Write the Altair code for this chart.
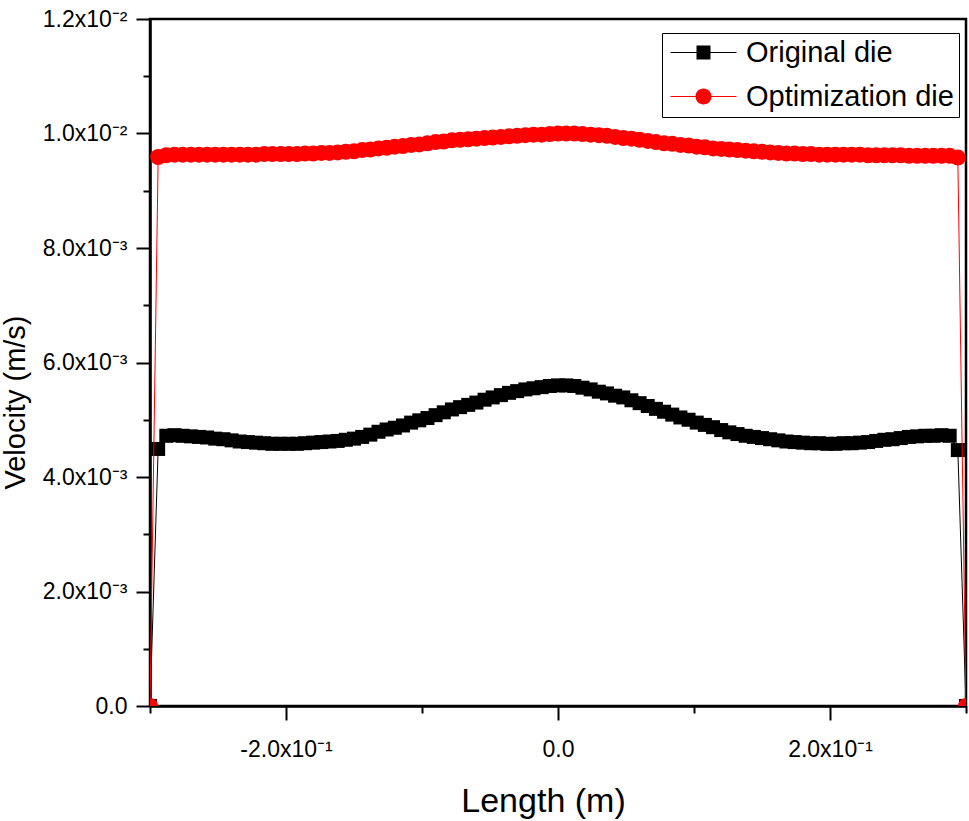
import altair as alt
import numpy as np
import pandas as pd

# ---------------- data ----------------
length_m = np.round(np.linspace(-0.3, 0.3, 101), 3).tolist()

# velocity in units of 1e-3 m/s
original_die_e3 = [
    0.0,
    4.49, 4.72, 4.73, 4.72, 4.71, 4.70, 4.69, 4.67, 4.66, 4.64,
    4.62, 4.61, 4.60, 4.59, 4.58, 4.58, 4.58, 4.58, 4.59, 4.60,
    4.61, 4.62, 4.63, 4.65, 4.67, 4.70, 4.74, 4.79, 4.83, 4.86,
    4.90, 4.95, 4.99, 5.03, 5.08, 5.13, 5.18, 5.22, 5.26, 5.30,
    5.35, 5.39, 5.43, 5.47, 5.50, 5.53, 5.55, 5.57, 5.59, 5.60,
    5.60, 5.59, 5.56, 5.53, 5.49, 5.46, 5.42, 5.39, 5.34, 5.29,
    5.24, 5.19, 5.14, 5.09, 5.04, 5.00, 4.95, 4.91, 4.87, 4.82,
    4.78, 4.75, 4.72, 4.70, 4.68, 4.66, 4.64, 4.62, 4.61, 4.60,
    4.59, 4.59, 4.58, 4.58, 4.59, 4.59, 4.60, 4.61, 4.63, 4.65,
    4.66, 4.68, 4.70, 4.71, 4.72, 4.72, 4.73, 4.72, 4.47, 0.0,
]

optimization_die_e3 = [
    0.0,
    9.59, 9.62, 9.63, 9.63, 9.63, 9.63, 9.63, 9.63, 9.63, 9.63,
    9.63, 9.63, 9.63, 9.64, 9.64, 9.64, 9.64, 9.64, 9.65, 9.65,
    9.66, 9.66, 9.67, 9.68, 9.69, 9.71, 9.72, 9.74, 9.75, 9.77,
    9.78, 9.80, 9.81, 9.83, 9.85, 9.86, 9.88, 9.89, 9.90, 9.91,
    9.92, 9.93, 9.94, 9.95, 9.96, 9.97, 9.98, 9.98, 9.99, 10.00,
    10.00, 10.00, 9.99, 9.98, 9.97, 9.96, 9.94, 9.92, 9.91, 9.89,
    9.87, 9.85, 9.83, 9.82, 9.80, 9.79, 9.77, 9.76, 9.74, 9.73,
    9.72, 9.71, 9.70, 9.69, 9.68, 9.67, 9.66, 9.65, 9.65, 9.64,
    9.64, 9.63, 9.63, 9.63, 9.63, 9.63, 9.63, 9.62, 9.62, 9.62,
    9.62, 9.62, 9.61, 9.61, 9.61, 9.61, 9.61, 9.61, 9.58, 0.0,
]

series_names = ["Original die", "Optimization die"]
series_colors = ["#000000", "#ff0000"]

y_ticks = [0.0, 0.001, 0.002, 0.003, 0.004, 0.005, 0.006, 0.007,
           0.008, 0.009, 0.010, 0.011, 0.012]
x_ticks = [-0.3, -0.2, -0.1, 0.0, 0.1, 0.2, 0.3]

# ---------------- tables ----------------
df_orig = pd.DataFrame({"length": length_m,
                        "velocity": [v * 1e-3 for v in original_die_e3],
                        "series": series_names[0]})
df_opt = pd.DataFrame({"length": length_m,
                       "velocity": [v * 1e-3 for v in optimization_die_e3],
                       "series": series_names[1]})
df_all = pd.concat([df_orig, df_opt], ignore_index=True)

FONT = "Liberation Sans"

y_minor_test = "round(datum.value*1000) % 2 == 1"
x_minor_test = "abs(round(datum.value*10)) % 2 == 1"

y_label_expr = (
    f"({y_minor_test}) ? '' : (datum.value == 0 ? '0.0' : "
    "(datum.value >= 0.0099 ? format(datum.value*100, '.1f') + 'x10\u207b\u00b2' : "
    "format(datum.value*1000, '.1f') + 'x10\u207b\u00b3'))"
)
x_label_expr = (
    f"({x_minor_test}) ? '' : (datum.value == 0 ? '0.0' : "
    "replace(format(datum.value*10, '.1f'), '\u2212', '-') + 'x10\u207b\u00b9')"
)

x_enc = alt.X(
    "length:Q",
    scale=alt.Scale(domain=[-0.3, 0.3], nice=False, zero=False),
    axis=alt.Axis(
        title="Length (m)",
        values=x_ticks,
        labelExpr=x_label_expr,
        tickSize=14,
        tickDash={"condition": {"test": x_minor_test, "value": [7, 40]}, "value": []},
        labelPadding=18,
        labelFlush=False,
        labelOverlap=False,
        titleFontSize=34,
        titleX=393,
        titleY=95,
        titleBaseline="middle",
    ),
)
y_enc = alt.Y(
    "velocity:Q",
    scale=alt.Scale(domain=[0, 0.012], nice=False, zero=False),
    axis=alt.Axis(
        title="Velocity (m/s)",
        values=y_ticks,
        labelExpr=y_label_expr,
        tickSize=14,
        tickDash={"condition": {"test": y_minor_test, "value": [7, 40]}, "value": []},
        labelPadding=9,
        labelFlush=False,
        labelOverlap=False,
        titleFontSize=29,
        titleX=-135,
        titleY=383,
        titleBaseline="middle",
    ),
)

# legend symbols: thin bar + marker (unit = 7 px at size 196)
sym_square = "M-4.71,-0.08H4.71V0.08H-4.71Z M-1,-1H1V1H-1Z"
sym_circle = ("M-4.71,-0.08H4.71V0.08H-4.71Z "
              "M1.143,0A1.143,1.143,0,1,1,-1.143,0A1.143,1.143,0,1,1,1.143,0Z")

legend = alt.Legend(
    title=None, orient="none", legendX=512, legendY=14,
    fillColor="white", strokeColor="black", padding=5,
    labelFont=FONT, labelFontSize=29, labelColor="black", labelLimit=400,
    symbolSize=196, symbolOffset=22, labelOffset=28, rowPadding=14,
    symbolStrokeWidth=0,
)

line_orig = alt.Chart(df_orig).mark_line(color="#000000", strokeWidth=1, clip=True).encode(
    x=x_enc, y=y_enc, order="length:Q")
pts_orig = alt.Chart(df_orig).mark_point(shape="square", filled=True, size=196, opacity=1,
                                          color="#000000", clip=True).encode(x=x_enc, y=y_enc)
line_opt = alt.Chart(df_opt).mark_line(color="#ff0000", strokeWidth=1, clip=True).encode(
    x=x_enc, y=y_enc, order="length:Q")
pts_opt = alt.Chart(df_opt).mark_point(shape="circle", filled=True, size=256, opacity=1,
                                        color="#ff0000", clip=True).encode(x=x_enc, y=y_enc)

legend_layer = alt.Chart(df_all).transform_filter("false").mark_point(
    filled=True, opacity=1, size=196).encode(
    x=x_enc, y=y_enc,
    color=alt.Color("series:N", scale=alt.Scale(domain=series_names, range=series_colors),
                    legend=legend),
    shape=alt.Shape("series:N", scale=alt.Scale(domain=series_names, range=[sym_square, sym_circle]),
                    legend=legend),
)

chart = alt.layer(line_orig, pts_orig, line_opt, pts_opt, legend_layer).properties(
    width=816, height=687,
    autosize=alt.AutoSizeParams(type="none"),
    padding={"left": 150, "top": 19, "right": 3, "bottom": 115},
    background="white",
).configure_view(
    stroke="black", strokeWidth=2.5
).configure_axis(
    grid=False,
    domainColor="black", domainWidth=2.5,
    tickColor="black", tickWidth=2,
    labelFont=FONT, labelFontSize=23, labelColor="black",
    titleFont=FONT, titleFontWeight="normal", titleColor="black",
)

chart.save("out.html", embed_options={"renderer": "svg", "actions": False})
